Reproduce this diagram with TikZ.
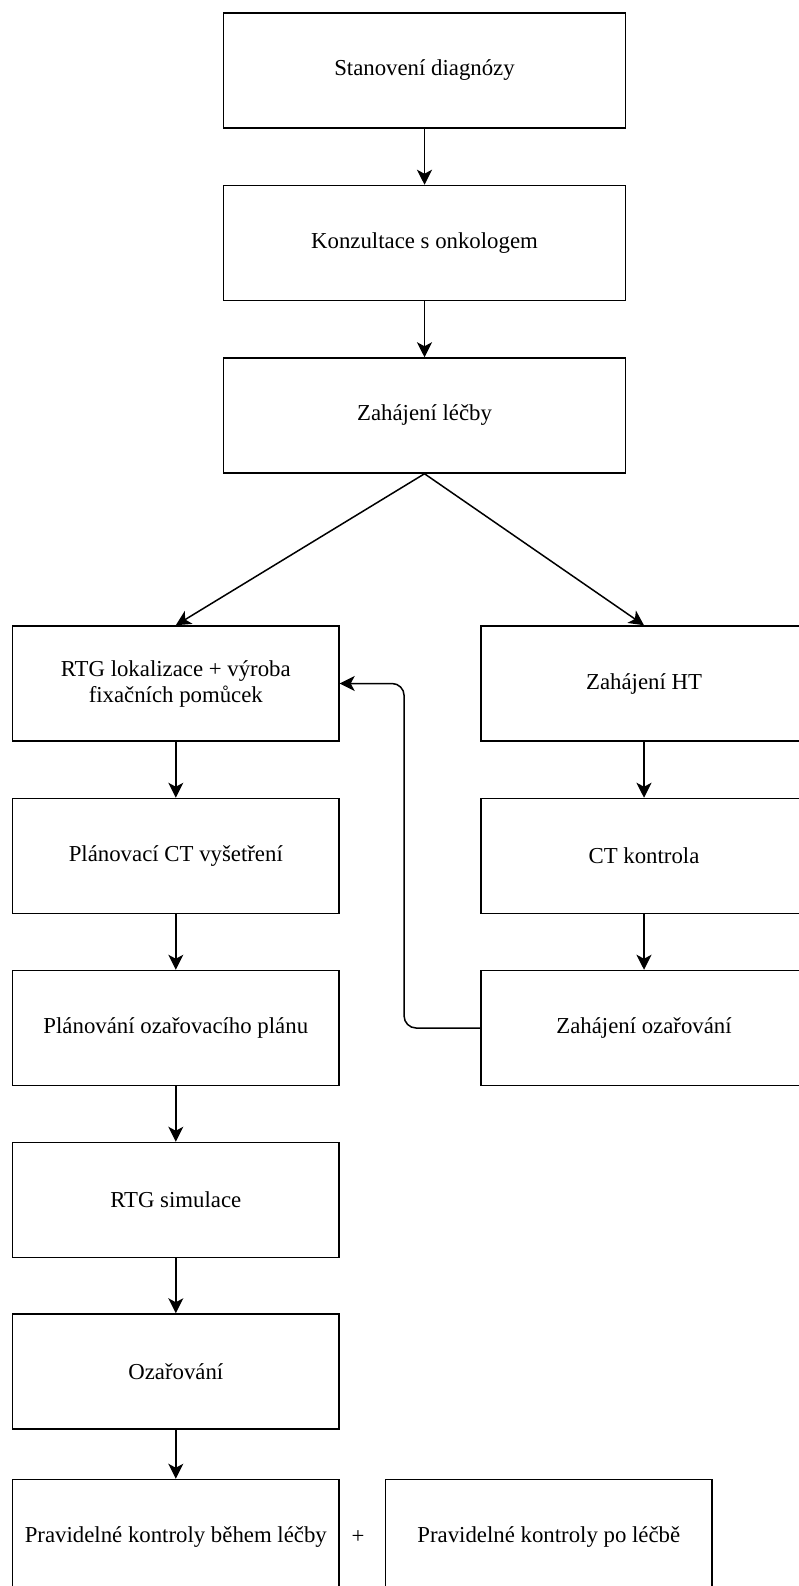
\documentclass[tikz,border=0pt]{standalone}
\usepackage{fontspec}
\setmainfont{Liberation Serif}
\usetikzlibrary{positioning, arrows.meta, calc}
\definecolor{mLine}{HTML}{000000}

\tikzset{
  widebox/.style={draw=mLine, line width=1.5pt, minimum width=402.4pt,
    minimum height=115pt, inner sep=0pt, align=center,
    font=\fontsize{22.8}{26}\selectfont},
  stepbox/.style={widebox, minimum width=326.3pt},
  flow/.style={draw=mLine, line width=1.5pt,
    -{Stealth[length=15pt,width=15pt,inset=4pt]}}
}

\begin{document}
\begin{tikzpicture}[x=1pt, y=-1pt]
    \useasboundingbox (0,0) rectangle (799,1586);
    \clip (0,0) rectangle (799,1586);

    % main line
    \node[widebox] (diag) at (424.5,70.5) {Stanovení diagnózy};
    \node[widebox] (konz) at (424.5,243) {Konzultace s onkologem};
    \node[widebox] (lecba) at (424.5,415.5) {Zahájení léčby};

    % left branch
    \node[stepbox] (rtgl) at (175.8,683.5) {RTG lokalizace + výroba\\fixačních pomůcek};
    \node[stepbox] (ctplan) at (175.8,856) {Plánovací CT vyšetření};
    \node[stepbox] (plan) at (175.8,1028) {Plánování ozařovacího plánu};
    \node[stepbox] (rtgsim) at (175.8,1200) {RTG simulace};
    \node[stepbox] (ozar) at (175.8,1371.5) {Ozařování};
    \node[stepbox] (kbeh) at (175.8,1537) {Pravidelné kontroly během léčby};
    \node[font=\fontsize{22.8}{26}\selectfont] (plus) at (358,1537) {+};
    \node[stepbox] (kpo) at (548.8,1537) {Pravidelné kontroly po léčbě};

    % right branch
    \node[stepbox] (ht) at (644,683.5) {Zahájení HT};
    \node[stepbox] (ctk) at (644,856) {CT kontrola};
    \node[stepbox] (ozst) at (644,1028) {Zahájení ozařování};

    \draw[flow] (diag.south) -- (konz.north);
    \draw[flow] (konz.south) -- (lecba.north);
    \draw[flow] (lecba.south) -- (rtgl.north);
    \draw[flow] (lecba.south) -- (ht.north);
    \draw[flow] (rtgl.south) -- (ctplan.north);
    \draw[flow] (ctplan.south) -- (plan.north);
    \draw[flow] (plan.south) -- (rtgsim.north);
    \draw[flow] (rtgsim.south) -- (ozar.north);
    \draw[flow] (ozar.south) -- (kbeh.north);
    \draw[flow] (ht.south) -- (ctk.north);
    \draw[flow] (ctk.south) -- (ozst.north);
    \draw[flow, rounded corners=12pt] (ozst.west) -- ++(-76,0) |- (rtgl.east);
\end{tikzpicture}
\end{document}
